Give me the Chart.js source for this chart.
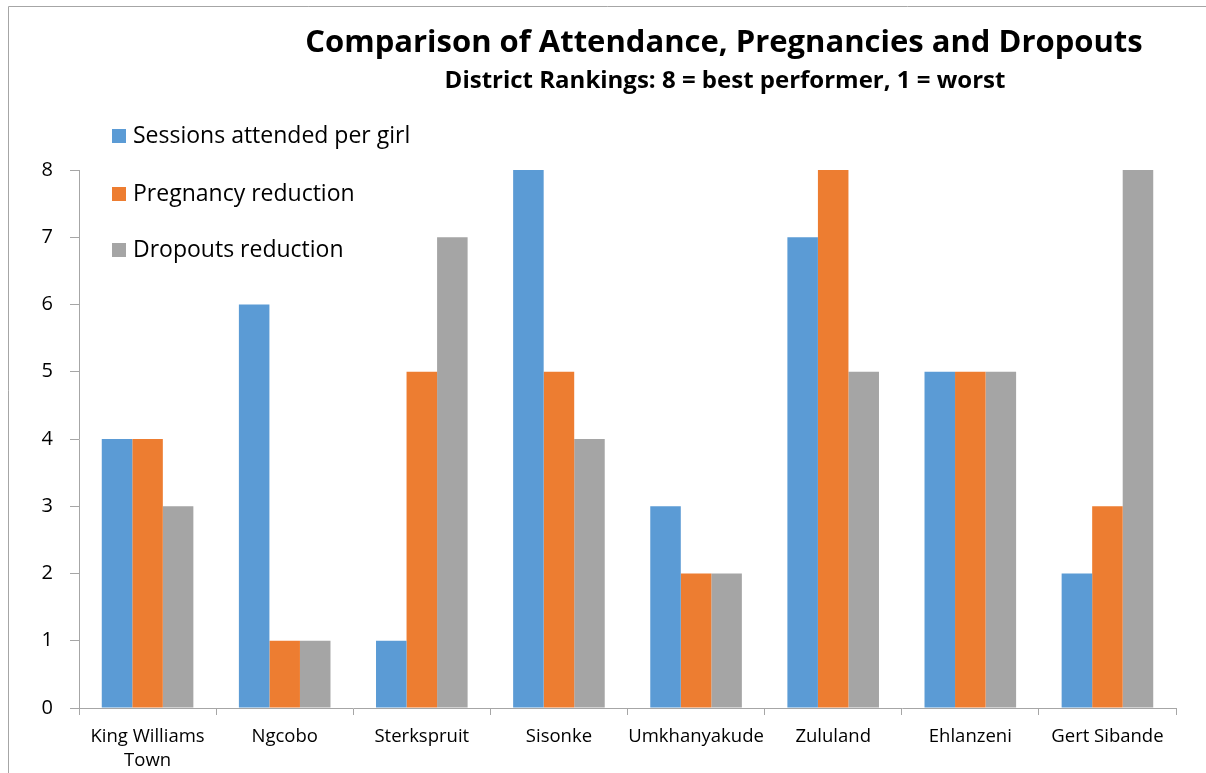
<!DOCTYPE html>
<html>
<head>
<meta charset="utf-8">
<script src="https://cdn.jsdelivr.net/npm/chart.js@4.4.1/dist/chart.umd.min.js"></script>
<style>
  html, body { margin: 0; padding: 0; background: #fff; }
  #wrap { width: 1206px; height: 773px; position: relative; }
</style>
</head>
<body>
<div id="wrap"><canvas id="c" width="1206" height="773"></canvas></div>
<script>
// District names (multi-line where the label wraps)
const districts = [
  ['King Williams', 'Town'], 'Ngcobo', 'Sterkspruit', 'Sisonke',
  'Umkhanyakude', 'Zululand', 'Ehlanzeni', 'Gert Sibande'
];

// Rankings per district: 8 = best performer, 1 = worst
const sessionsAttended = [4, 6, 1, 8, 3, 7, 5, 2];
const pregnancyReduction = [4, 1, 5, 5, 2, 8, 5, 3];
const dropoutsReduction = [3, 1, 7, 4, 2, 5, 5, 8];

const seriesNames = ['Sessions attended per girl', 'Pregnancy reduction', 'Dropouts reduction'];
const seriesColors = ['#5B9BD5', '#ED7D31', '#A5A5A5'];

const titleText = 'Comparison of Attendance, Pregnancies and Dropouts';
const subtitleText = 'District Rankings: 8 = best performer, 1 = worst';

const FONT = '"Open Sans", Lato, sans-serif';
const AXIS_COLOR = '#A6A6A6';

// Frame, title, subtitle and an in-plot legend drawn on the canvas
const decorations = {
  id: 'decorations',
  beforeDraw(chart) {
    const ctx = chart.ctx;
    ctx.save();
    ctx.fillStyle = '#ffffff';
    ctx.fillRect(0, 0, chart.width, chart.height);
    ctx.strokeStyle = '#A6A6A6';
    ctx.lineWidth = 1;
    ctx.beginPath();
    ctx.moveTo(8.5, chart.height + 5);
    ctx.lineTo(8.5, 6.5);
    ctx.lineTo(chart.width + 5, 6.5);
    ctx.stroke();
    ctx.restore();
  },
  afterDraw(chart) {
    const ctx = chart.ctx;
    ctx.save();
    ctx.fillStyle = '#000';
    ctx.textAlign = 'center';
    ctx.textBaseline = 'alphabetic';
    ctx.font = 'bold 31px ' + FONT;
    ctx.fillText(titleText, 724, 52);
    ctx.font = 'bold 24px ' + FONT;
    ctx.fillText(subtitleText, 725, 88);

    // legend
    const rows = [136, 194, 250];
    ctx.textAlign = 'left';
    ctx.font = '23px ' + FONT;
    chart.data.datasets.forEach((ds, i) => {
      const cy = rows[i];
      ctx.fillStyle = ds.backgroundColor;
      ctx.fillRect(112, cy - 7, 14, 14);
      ctx.fillStyle = '#000';
      ctx.textBaseline = 'alphabetic';
      ctx.fillText(ds.label, 133, cy + 7);
    });
    ctx.restore();
  }
};

new Chart(document.getElementById('c'), {
  type: 'bar',
  data: {
    labels: districts,
    datasets: [
      { label: seriesNames[0], data: sessionsAttended, backgroundColor: seriesColors[0] },
      { label: seriesNames[1], data: pregnancyReduction, backgroundColor: seriesColors[1] },
      { label: seriesNames[2], data: dropoutsReduction, backgroundColor: seriesColors[2] }
    ]
  },
  options: {
    responsive: false,
    animation: false,
    devicePixelRatio: 1,
    layout: { padding: { top: 170, right: 30, left: 0, bottom: 0 } },
    datasets: {
      bar: { categoryPercentage: 0.668, barPercentage: 1.0, borderWidth: 0 }
    },
    plugins: {
      legend: { display: false },
      title: { display: false },
      tooltip: { enabled: false }
    },
    scales: {
      x: {
        grid: { drawOnChartArea: false, drawTicks: true, tickLength: 7, color: AXIS_COLOR, offset: true },
        border: { display: true, color: AXIS_COLOR, width: 1 },
        ticks: {
          color: '#000', font: { family: FONT, size: 18.5, lineHeight: 1.3 }, padding: 10,
          maxRotation: 0, autoSkip: false
        },
        afterFit(scale) { scale.height = 65; }
      },
      y: {
        min: 0, max: 8,
        grid: { drawOnChartArea: false, drawTicks: true, tickLength: 9, color: AXIS_COLOR },
        border: { display: true, color: AXIS_COLOR, width: 1 },
        ticks: { stepSize: 1, color: '#000', font: { family: FONT, size: 20 }, padding: 17 },
        afterFit(scale) { scale.width = 79; }
      }
    }
  },
  plugins: [decorations]
});
</script>
</body>
</html>
